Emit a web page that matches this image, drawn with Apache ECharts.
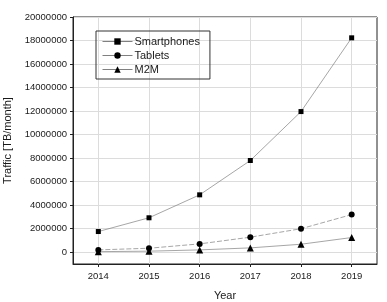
<!DOCTYPE html>
<html>
<head>
<meta charset="utf-8">
<script src="https://cdn.jsdelivr.net/npm/echarts@6/dist/echarts.min.js"></script>
<style>
  html, body { margin: 0; padding: 0; background: #fff; }
  #chart { width: 387px; height: 302px; }
</style>
</head>
<body>
<div id="chart"></div>
<script>
// data
const years = [2014, 2015, 2016, 2017, 2018, 2019];
const smartphones = [1760000, 2930000, 4880000, 7800000, 11960000, 18230000];
const tablets = [200000, 340000, 710000, 1280000, 2000000, 3200000];
const m2m = [50000, 90000, 200000, 370000, 680000, 1250000];
const yTicks = [0, 2000000, 4000000, 6000000, 8000000, 10000000, 12000000, 14000000, 16000000, 18000000, 20000000];

const font = 'Liberation Sans, Arial, sans-serif';
const ink = '#1a1a1a';

function pairs(vals) {
  return years.map((y, i) => [y, vals[i]]);
}

function lineSeries(name, vals, symbol, size, dash) {
  return {
    name: name,
    type: 'line',
    data: pairs(vals),
    symbol: symbol,
    symbolSize: size,
    showSymbol: true,
    itemStyle: { color: '#000' },
    lineStyle: { color: '#808080', width: 0.7, type: dash },
    emphasis: { disabled: true }
  };
}

const chart = echarts.init(document.getElementById('chart'));

chart.setOption({
  animation: false,
  backgroundColor: '#fff',
  grid: {
    left: 73, top: 17, right: 10, bottom: 38,
    outerBoundsMode: 'none',
    containLabel: false,
    show: true, borderColor: '#222', borderWidth: 1
  },
  legend: {
    orient: 'vertical',
    left: 96, top: 31,
    padding: [5, 10, 4, 6],
    borderColor: '#333',
    borderWidth: 1,
    itemWidth: 30,
    itemHeight: 8,
    itemGap: 3,
    lineStyle: { color: '#808080', width: 1, type: 'solid' },
    textStyle: { fontFamily: font, fontSize: 11, color: ink, padding: [0, 0, 0, -3] },
    data: ['Smartphones', 'Tablets', 'M2M']
  },
  xAxis: {
    type: 'value',
    min: 2013.5, max: 2019.5,
    name: 'Year',
    nameLocation: 'middle',
    nameGap: 26,
    nameTextStyle: { fontFamily: font, fontSize: 11, color: ink },
    axisLine: { onZero: false, lineStyle: { color: '#222', width: 1 } },
    axisTick: { show: true, length: 3, customValues: years, lineStyle: { color: '#222' } },
    axisLabel: {
      customValues: years,
      fontFamily: font, fontSize: 9.5, color: ink, margin: 7,
      formatter: v => String(v)
    },
    splitLine: { show: true, lineStyle: { color: '#dcdcdc', width: 1 } }
  },
  yAxis: {
    type: 'value',
    min: -1000000, max: 20000000,
    name: 'Traffic [TB/month]',
    nameLocation: 'middle',
    nameGap: 60,
    nameMoveOverlap: false,
    nameTextStyle: { fontFamily: font, fontSize: 11, color: ink },
    axisLine: { show: true, onZero: false, lineStyle: { color: '#222', width: 1 } },
    axisTick: { show: true, length: 3, customValues: yTicks, lineStyle: { color: '#222' } },
    axisLabel: {
      customValues: yTicks,
      fontFamily: font, fontSize: 9.5, color: ink, margin: 6,
      formatter: v => String(v)
    },
    splitLine: { show: true, lineStyle: { color: '#dcdcdc', width: 1 } }
  },
  series: [
    lineSeries('Smartphones', smartphones, 'rect', 5, 'solid'),
    lineSeries('Tablets', tablets, 'circle', 6, [5, 2]),
    lineSeries('M2M', m2m, 'triangle', 7, 'solid')
  ]
});
</script>
</body>
</html>
